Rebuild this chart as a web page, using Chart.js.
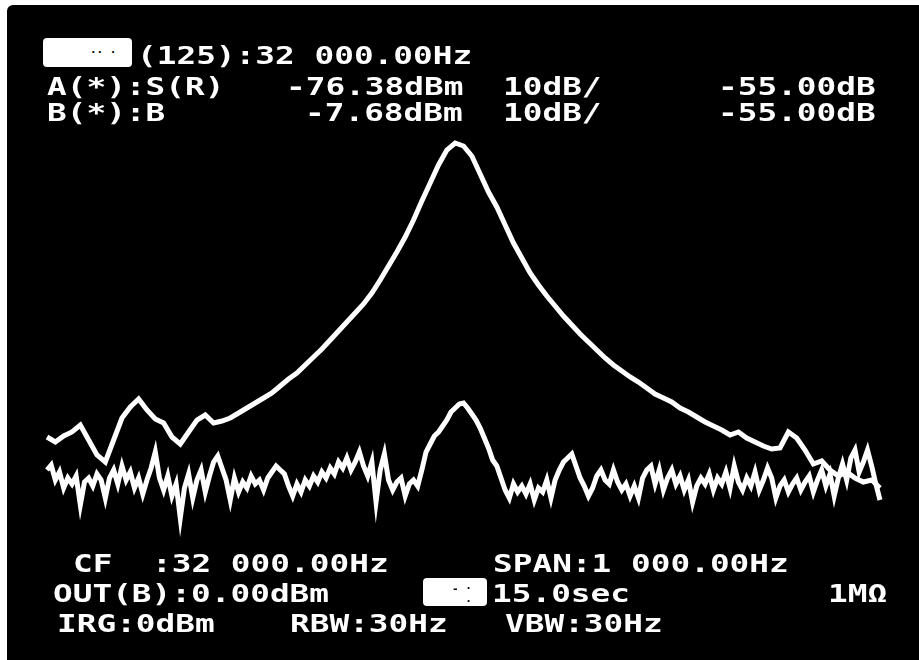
<!DOCTYPE html>
<html>
<head>
<meta charset="utf-8">
<script src="https://cdn.jsdelivr.net/npm/chart.js@4.4.1/dist/chart.umd.min.js"></script>
<style>
    body { margin: 0; background: #fff; width: 919px; height: 660px; overflow: hidden; }
    #screen { position: absolute; left: 7px; top: 5px; width: 912px; height: 655px; background: #000; border-top-left-radius: 6px; }
    .t {
        position: absolute; color: #fff; white-space: pre;
        font-family: "DejaVu Sans Mono", monospace; font-weight: bold;
        font-size: 25px; line-height: 25px;
        transform: scaleX(1.31); transform-origin: left top;
    }
    .box { position: absolute; background: #fff; border-radius: 4px; }
    .dots { position: absolute; color: #000; font-family: "DejaVu Sans Mono", monospace; font-size: 11px; font-weight: bold; white-space: pre; }
</style>
</head>
<body>
<div id="screen"><canvas id="specChart" width="912" height="655"></canvas></div>

<div class="box" style="left:43px; top:38px; width:89px; height:29px;"></div>
<div class="dots" style="left:90px; top:46px;">·· ·</div>
<div class="t" style="left:137px; top:43px;">(125):32 000.00Hz</div>

<div class="t" style="left:47px; top:74px;">A(*):S(R)</div>
<div class="t" style="left:286px; top:74px;">-76.38dBm</div>
<div class="t" style="left:503px; top:74px;">10dB/</div>
<div class="t" style="left:718px; top:74px;">-55.00dB</div>

<div class="t" style="left:47px; top:100px;">B(*):B</div>
<div class="t" style="left:305px; top:100px;">-7.68dBm</div>
<div class="t" style="left:503px; top:100px;">10dB/</div>
<div class="t" style="left:718px; top:100px;">-55.00dB</div>

<div class="t" style="left:73px; top:551px;">CF</div>
<div class="t" style="left:152px; top:551px;">:32 000.00Hz</div>
<div class="t" style="left:493px; top:551px;">SPAN:1 000.00Hz</div>

<div class="t" style="left:53px; top:581px;">OUT(B):0.00dBm</div>
<div class="box" style="left:423px; top:578px; width:64px; height:28px;"></div>
<div class="dots" style="left:452px; top:582px;">- ·
  ·</div>
<div class="t" style="left:492px; top:581px;">15.0sec</div>
<div class="t" style="left:828px; top:581px;">1MΩ</div>

<div class="t" style="left:57px; top:611px;">IRG:0dBm</div>
<div class="t" style="left:290px; top:611px;">RBW:30Hz</div>
<div class="t" style="left:505px; top:611px;">VBW:30Hz</div>

<script>
// Sweep: CF 32 000 Hz, span 1 000 Hz
const startHz = 31500;
const stopHz = 32500;
const stepA = 10;   // Hz between readings of trace A
const stepB = 5;    // Hz between readings of trace B

// Trace A (relative dB)
const traceA = [
    -81.4, -82.4, -81.2, -80.4, -79, -82, -85, -86.4, -82, -77.6,
    -75.4, -73.8, -76, -77.8, -78.6, -81.4, -82.8, -80.4, -78, -77,
    -78.6, -78.2, -77.6, -76.6, -75.6, -74.6, -73.6, -72.6, -71.2, -69.8,
    -68.6, -67, -65.4, -63.8, -62, -60.2, -58.4, -56.6, -54.8, -52.6,
    -50, -47.2, -44.4, -41.4, -38, -34.2, -30.6, -27, -24, -22.6,
    -23.2, -25.2, -28.8, -32.4, -35.4, -39, -42.6, -45.6, -48.6, -51,
    -53.2, -55.2, -57.2, -59, -60.8, -62.4, -64, -65.6, -67, -68.2,
    -69.4, -70.4, -71.6, -72.8, -73.6, -74.4, -75.6, -76.4, -77.4, -78.4,
    -79.2, -80, -81, -80.4, -81.6, -82.4, -83.2, -83.8, -83.6, -80.4,
    -81.6, -84, -86.8, -86.2, -88, -89.2, -88.4, -89.6, -90.4, -90,
    -91.6
];

// Trace B (relative dB)
const traceB = [
    -88, -87, -90, -88.4, -91.6, -89.6, -90.8, -89.2, -95, -90.4,
    -89.6, -91.2, -88.8, -90, -93.6, -89.6, -88, -90.8, -87.2, -90,
    -88.4, -91.6, -89.6, -92.8, -90, -87.6, -84.4, -89.6, -92, -89.2,
    -93.2, -90.8, -97.6, -91.6, -88.8, -93.6, -90, -88, -92.4, -89.2,
    -86.4, -85.2, -87.6, -90, -94, -89.6, -92.4, -90.4, -91.6, -89.2,
    -90.8, -90, -92, -89.6, -88.4, -87.2, -88, -88.8, -91.2, -93.2,
    -90.8, -92.4, -90, -91.2, -89.2, -90.4, -88.4, -89.6, -87.6, -88.8,
    -86.4, -87.6, -85.6, -88, -86.4, -84.4, -87.2, -89.2, -86.4, -94.4,
    -88, -84.8, -90, -92, -90.4, -89.6, -93.2, -90.8, -90, -91.2,
    -88, -84.4, -82.8, -81.2, -80.4, -79.2, -78, -76.4, -75.6, -74.8,
    -74.6, -75.6, -76.8, -78, -79.6, -81.6, -83.6, -86, -87.2, -89.6,
    -92, -93.6, -90.8, -92.4, -91.2, -92.8, -90.8, -94, -91.6, -92.4,
    -90, -93.6, -90, -88, -86.4, -85.6, -84.8, -87.2, -89.6, -91.2,
    -93.2, -91.6, -89.2, -88, -90, -90.8, -88, -90.4, -92, -90.8,
    -93.2, -91.2, -93.6, -89.6, -88, -87.2, -90.8, -88, -92, -89.6,
    -88, -90.8, -89.2, -92, -90, -94.4, -91.2, -89.6, -90.8, -88.8,
    -92, -89.6, -90.8, -88.4, -91.6, -87.2, -90.4, -92, -89.6, -91.2,
    -88.4, -92, -90, -87.6, -89.6, -93.6, -91.2, -90, -92.4, -90.8,
    -89.6, -92, -90.4, -89.2, -92.4, -90, -88, -91.2, -88.8, -93.2,
    -89.6, -86.8, -90, -85.6, -84, -88.4, -86.4, -84, -87.2, -90.8,
    -94
];

function toPoints(values, step) {
    return values.map((v, i) => ({ x: startHz + i * step, y: v }));
}

let ctx = document.getElementById("specChart").getContext('2d');
new Chart(ctx, {
    type: 'line',
    data: {
        datasets: [{
            label: "A",
            data: toPoints(traceA, stepA),
            borderColor: "#ffffff",
            borderWidth: 5,
            pointRadius: 0,
            tension: 0,
            clip: false
        }, {
            label: "B",
            data: toPoints(traceB, stepB),
            borderColor: "#ffffff",
            borderWidth: 5,
            pointRadius: 0,
            tension: 0,
            clip: false
        }]
    },
    options: {
        responsive: false,
        animation: false,
        layout: { padding: { left: 40, right: 39, top: 25, bottom: 130 } },
        plugins: { legend: { display: false }, tooltip: { enabled: false } },
        scales: {
            x: { type: 'linear', min: startHz, max: stopHz, display: false },
            y: { min: -100, max: 0, display: false }
        }
    }
});
</script>
</body>
</html>
